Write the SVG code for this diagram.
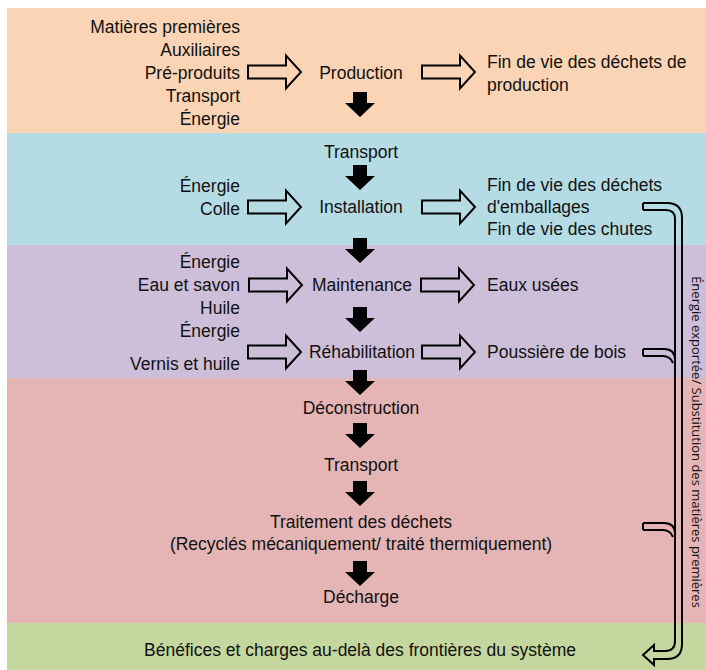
<svg xmlns="http://www.w3.org/2000/svg" xmlns:xlink="http://www.w3.org/1999/xlink" width="706" height="670" viewBox="0 0 706 670">
<style>
  text { font-family: "Liberation Sans", Arial, sans-serif; font-size: 17.5px; fill: #111; }
  .r { text-anchor: end; }
  .c { text-anchor: middle; }
  .l { text-anchor: start; }
  .vt { font-family: "Open Sans", "Noto Sans", sans-serif; font-size: 13px; text-anchor: middle; }
  .hollow { fill: none; stroke: #000; stroke-width: 2; stroke-linejoin: miter; }
  .down { fill: #000; }
  .pipe { fill: none; stroke: #000; stroke-width: 2; }
</style>
<defs>
  <path id="ha" class="hollow" d="M0,-6.5 H38 V-16.5 L53,0 L38,16.5 V6.5 H0 Z"/>
  <path id="da" class="down" d="M-7,0 H7 V11 H15 L0,25 L-15,11 H-7 Z"/>
</defs>

<g id="bands">
  <rect x="7" y="8" width="699" height="125" fill="#fad4b4"/>
  <rect x="7" y="133" width="699" height="112" fill="#b5dce4"/>
  <rect x="7" y="245" width="699" height="133" fill="#cdbfd9"/>
  <rect x="7" y="378" width="699" height="245" fill="#e5b5b5"/>
  <rect x="7" y="623" width="699" height="47" fill="#c4d79e"/>
</g>

<g id="production-inputs">
  <text class="r" x="240" y="33">Matières premières</text>
  <text class="r" x="240" y="56">Auxiliaires</text>
  <text class="r" x="240" y="79">Pré-produits</text>
  <text class="r" x="240" y="102">Transport</text>
  <text class="r" x="240" y="125">Énergie</text>
</g>
<g id="production"><text class="c" x="361" y="79">Production</text></g>
<g id="production-waste">
  <text class="l" x="487" y="68">Fin de vie des déchets de</text>
  <text class="l" x="487" y="91">production</text>
</g>

<g id="transport1"><text class="c" x="361" y="158">Transport</text></g>
<g id="installation-inputs">
  <text class="r" x="240" y="192">Énergie</text>
  <text class="r" x="240" y="215">Colle</text>
</g>
<g id="installation"><text class="c" x="361" y="213">Installation</text></g>
<g id="installation-waste">
  <text class="l" x="487" y="191">Fin de vie des déchets</text>
  <text class="l" x="487" y="213">d'emballages</text>
  <text class="l" x="487" y="235">Fin de vie des chutes</text>
</g>

<g id="maintenance-inputs">
  <text class="r" x="240" y="268">Énergie</text>
  <text class="r" x="240" y="291">Eau et savon</text>
  <text class="r" x="240" y="314">Huile</text>
</g>
<g id="maintenance"><text class="c" x="362" y="291">Maintenance</text></g>
<g id="maintenance-waste"><text class="l" x="487" y="291">Eaux usées</text></g>

<g id="rehab-inputs">
  <text class="r" x="240" y="337">Énergie</text>
  <text class="r" x="240" y="370">Vernis et huile</text>
</g>
<g id="rehabilitation"><text class="c" x="362" y="358">Réhabilitation</text></g>
<g id="rehab-waste"><text class="l" x="487" y="358">Poussière de bois</text></g>

<g id="deconstruction"><text class="c" x="361" y="414">Déconstruction</text></g>
<g id="transport2"><text class="c" x="361" y="471">Transport</text></g>
<g id="traitement">
  <text class="c" x="361" y="528">Traitement des déchets</text>
  <text class="c" x="361" y="550">(Recyclés mécaniquement/ traité thermiquement)</text>
</g>
<g id="decharge"><text class="c" x="361" y="603">Décharge</text></g>
<g id="benefices"><text class="c" x="360" y="656">Bénéfices et charges au-delà des frontières du système</text></g>

<g id="connectors">
  <use href="#ha" x="248" y="72"/>
  <use href="#ha" x="422" y="72"/>
  <use href="#ha" x="248" y="207"/>
  <use href="#ha" x="422" y="207"/>
  <use href="#ha" x="249" y="285"/>
  <use href="#ha" x="421" y="285"/>
  <use href="#ha" x="248" y="352"/>
  <use href="#ha" x="422" y="352"/>

  <use href="#da" x="360" y="92"/>
  <use href="#da" x="360" y="165"/>
  <use href="#da" x="360" y="238"/>
  <use href="#da" x="360" y="307"/>
  <use href="#da" x="360" y="370"/>
  <use href="#da" x="360" y="423"/>
  <use href="#da" x="360" y="481"/>
  <use href="#da" x="360" y="561"/>

  <g id="export-pipe" class="pipe">
    <path d="M643,203 V210 M643,203 H667 Q682,203 682,218 V644 Q682,659 667,659 H654 V665 L643,655 L654,645 V651 H665 Q675,651 675,641 V219 Q675,210 666,210 H643"/>
    <path d="M643,349 V356 M643,349 H664 Q675,349 675,360 M643,356 H663 Q670,356 673,363"/>
    <path d="M643,523 V530 M643,523 H664 Q675,523 675,534 M643,530 H663 Q670,530 673,537"/>
  </g>
  <text class="vt" transform="translate(692,442) rotate(90)">Énergie exportée/ Substitution des matières premières</text>
</g>
</svg>
